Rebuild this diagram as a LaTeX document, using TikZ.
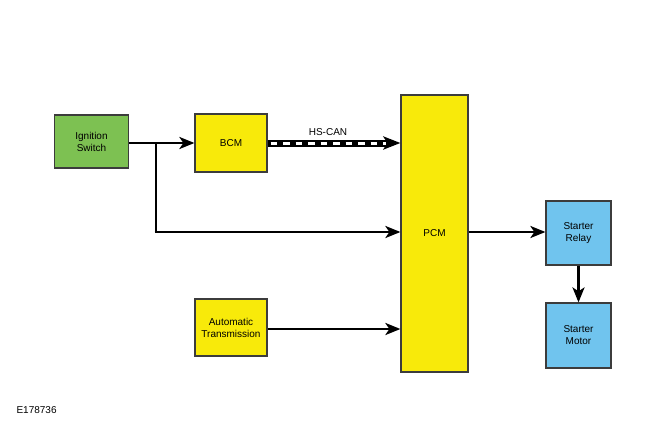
\documentclass[tikz,border=0pt]{standalone}
\usepackage{fontspec}
\setmainfont{Liberation Sans}
\usetikzlibrary{arrows.meta}
\definecolor{bgreen}{RGB}{125,193,82}
\definecolor{byellow}{RGB}{248,234,10}
\definecolor{bblue}{RGB}{112,196,238}
\definecolor{bborder}{RGB}{60,60,60}
\begin{document}
\begin{tikzpicture}[x=1pt,y=-1pt,
  box/.style={draw=bborder,line width=1.2pt,inner sep=0pt,align=center,font=\fontsize{10}{12}\selectfont},
  conn/.style={line width=2.8pt,-{Stealth[length=15pt,width=12pt,inset=4pt]}},
]
\useasboundingbox (0,0) rectangle (650,425);
\node[box,fill=bgreen,minimum width=74pt,minimum height=53pt] (ign) at (91.5,141.5) {Ignition\\Switch};
\node[box,fill=byellow,minimum width=72pt,minimum height=58pt] (bcm) at (231,143) {BCM};
\node[box,fill=byellow,minimum width=72pt,minimum height=57pt] (at) at (231,327.5) {Automatic\\Transmission};
\node[box,fill=byellow,minimum width=67pt,minimum height=277pt] (pcm) at (434.5,233.5) {PCM};
\node[box,fill=bblue,minimum width=65pt,minimum height=64pt] (sr) at (578.5,233) {Starter\\Relay};
\node[box,fill=bblue,minimum width=65pt,minimum height=65pt] (sm) at (578.5,335.5) {Starter\\Motor};
\coordinate (br) at (156,143);
\draw[conn] (ign.east |- 0,143) -- (bcm.west |- 0,143);
\draw[line width=2.8pt] (br) -- (156,232) coordinate (bc);
\draw[conn] ([xshift=-1.4pt]bc) -- (pcm.west |- bc);
\draw[conn] (at.east |- 0,329) -- (pcm.west |- 0,329);
\draw[conn] (pcm.east |- 0,232) -- (sr.west |- 0,232);
\draw[conn] (sr.south) -- (sm.north);
\draw[line width=7pt,-{Stealth[length=17pt,width=13pt,inset=4pt]}] (bcm.east |- 0,143) -- (pcm.west |- 0,143);
\draw[white,line width=3pt,dash pattern=on 6.5pt off 6pt] ([xshift=3pt]bcm.east |- 0,143) -- (386,143);
\node[font=\fontsize{10}{12}\selectfont] (can) at (328,132) {HS-CAN};
\node[font=\fontsize{10}{12}\selectfont,anchor=west] (lbl) at (13,410) {E178736};
\end{tikzpicture}
\end{document}
